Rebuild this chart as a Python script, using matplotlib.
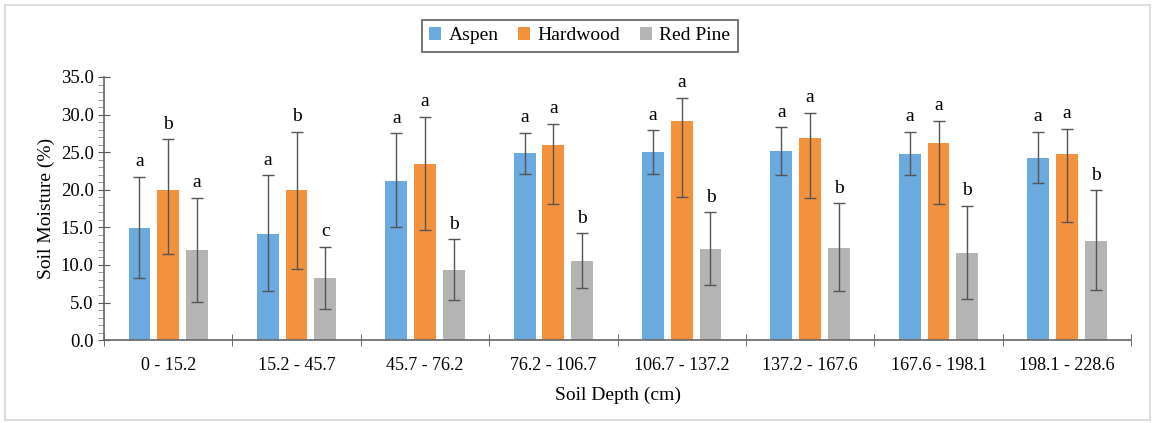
import numpy as np
import matplotlib
matplotlib.use("Agg")
import matplotlib.pyplot as plt
from matplotlib.ticker import MultipleLocator

plt.rcParams['font.family'] = ['Liberation Serif', 'DejaVu Serif']

depths = ['0 - 15.2', '15.2 - 45.7', '45.7 - 76.2', '76.2 - 106.7',
          '106.7 - 137.2', '137.2 - 167.6', '167.6 - 198.1', '198.1 - 228.6']
aspen = [14.9, 14.1, 21.2, 24.9, 25.0, 25.1, 24.8, 24.2]
aspen_lo = [6.7, 7.6, 6.1, 2.8, 2.9, 3.1, 2.8, 3.3]
aspen_hi = [6.8, 7.8, 6.3, 2.7, 2.9, 3.2, 2.9, 3.5]
hardwood = [19.9, 20.0, 23.4, 26.0, 29.2, 26.9, 26.2, 24.7]
hardwood_lo = [8.4, 10.6, 8.7, 7.9, 10.1, 8.0, 8.1, 9.0]
hardwood_hi = [6.8, 7.7, 6.3, 2.8, 3.0, 3.3, 3.0, 3.4]
redpine = [12.0, 8.2, 9.3, 10.5, 12.1, 12.3, 11.6, 13.2]
redpine_lo = [6.9, 4.1, 4.0, 3.6, 4.8, 5.8, 6.2, 6.6]
redpine_hi = [6.9, 4.2, 4.1, 3.7, 4.9, 5.9, 6.3, 6.7]
aspen_let = ['a'] * 8
hardwood_let = ['b', 'b', 'a', 'a', 'a', 'a', 'a', 'a']
redpine_let = ['a', 'c', 'b', 'b', 'b', 'b', 'b', 'b']

series = [('Aspen', aspen, aspen_lo, aspen_hi, aspen_let, '#6aaadf'),
          ('Hardwood', hardwood, hardwood_lo, hardwood_hi, hardwood_let, '#f3913d'),
          ('Red Pine', redpine, redpine_lo, redpine_hi, redpine_let, '#b4b4b4')]

fig = plt.figure(figsize=(11.53, 4.23), dpi=100)
ax = fig.add_axes([0.0902, 0.196, 0.8908, 0.622])

x = np.arange(len(depths))
w = 0.17
step = 0.224
for i, (name, vals, lo, hi, lets, col) in enumerate(series):
    xs = x + (i - 1) * step
    ax.bar(xs, vals, w, color=col, label=name, zorder=2)
    ax.errorbar(xs, vals, yerr=[lo, hi], fmt='none', ecolor='#555555',
                elinewidth=1, capsize=4, capthick=1, zorder=3)
    for xi, v, e, l in zip(xs, vals, hi, lets):
        ax.text(xi, v + e + 0.9, l, ha='center', va='bottom', fontsize=14)

ax.set_xlim(-0.5, len(depths) - 0.5)
ax.set_ylim(0, 35)
ax.yaxis.set_major_locator(MultipleLocator(5))
ax.yaxis.set_minor_locator(MultipleLocator(1))
ax.set_yticklabels([f'{v:.1f}' for v in ax.get_yticks()])
ax.set_xticks(x)
ax.set_xticklabels(depths, fontsize=13)
ax.set_xticks(np.arange(len(depths) + 1) - 0.5, minor=True)
ax.tick_params(axis='x', which='major', length=0, pad=12)
ax.tick_params(axis='x', which='minor', length=8, direction='inout', color='#555555')
ax.tick_params(axis='y', which='major', length=8, direction='inout', color='#555555', labelsize=13.5)
ax.tick_params(axis='y', which='minor', length=4, direction='out', color='#888888')
for s in ['top', 'right']:
    ax.spines[s].set_visible(False)
for s in ['left', 'bottom']:
    ax.spines[s].set_color('#666666')
    ax.spines[s].set_linewidth(1.2)

ax.set_ylabel('Soil Moisture (%)', fontsize=14)
ax.set_xlabel('Soil Depth (cm)', fontsize=14, labelpad=9)

leg = fig.legend(loc='center', bbox_to_anchor=(0.503, 0.915), ncol=3, fontsize=14,
                 frameon=True, fancybox=False, edgecolor='#333333',
                 handlelength=0.6, handleheight=0.6, handletextpad=0.4,
                 columnspacing=1.0, borderpad=0.4)
leg.get_frame().set_linewidth(1.2)

fig.patches.append(plt.Rectangle((0.004, 0.006), 0.993, 0.982, transform=fig.transFigure,
                                 fill=False, edgecolor='#dddddd', linewidth=1.5))

fig.savefig('out.png', dpi=100)
